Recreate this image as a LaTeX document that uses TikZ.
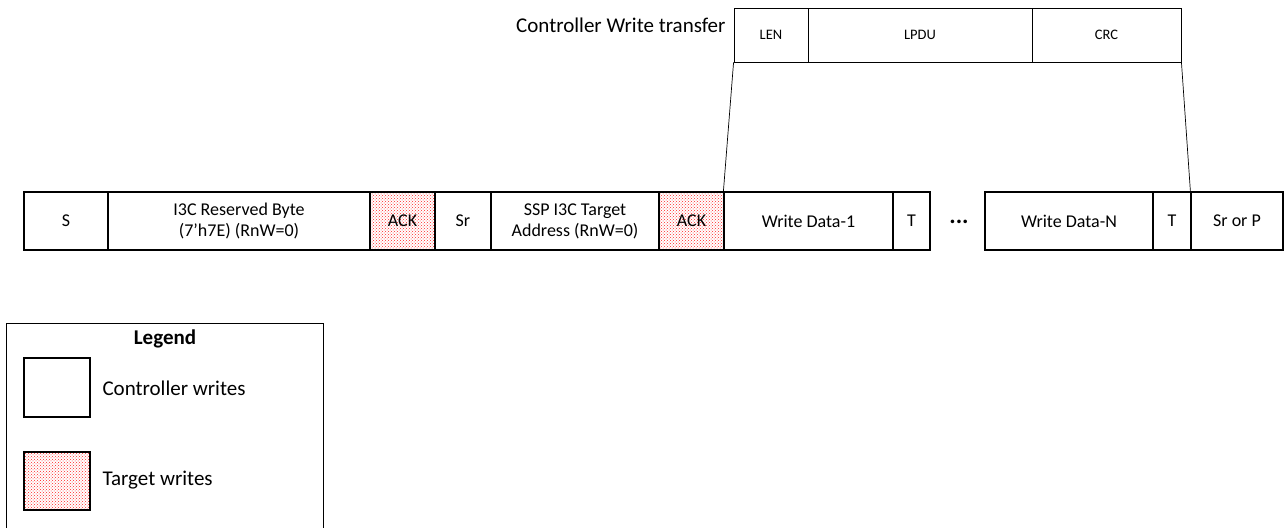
\documentclass[tikz,border=0pt]{standalone}
\usepackage{fontspec}
\setmainfont{Carlito}
\usetikzlibrary{patterns}
\begin{document}
\begin{tikzpicture}[x=1pt,y=-1pt,
  fld/.style={draw=black, line width=1.2pt, fill=white, inner sep=0pt, align=center, font=\fontsize{18}{21}\selectfont},
  tgt/.style={fld, pattern=crosshatch dots, pattern color=red!85},
  sub/.style={draw=black, line width=0.9pt, fill=white, inner sep=0pt, font=\fontsize{14.5}{17}\selectfont},
  lnk/.style={black, line width=0.7pt}]
\useasboundingbox (0,0) rectangle (1284,527);
\newcommand{\fieldbox}[5]{%
  \node[#1, minimum width=#3-#2 pt, minimum height=58pt] (#4) at ({(#2+#3)/2},221) {#5};}
\fieldbox{fld}{24}{108}{s}{S}
\fieldbox{fld}{108}{370}{rb}{I3C Reserved Byte\\(7'h7E) (RnW=0)}
\fieldbox{tgt}{370}{435}{ack1}{}
\node[font=\fontsize{18}{21}\selectfont] at (ack1) {ACK};
\fieldbox{fld}{435}{491}{sr}{Sr}
\fieldbox{fld}{491}{659}{ssp}{SSP I3C Target\\Address (RnW=0)}
\fieldbox{tgt}{659}{724}{ack2}{}
\node[font=\fontsize{18}{21}\selectfont] at (ack2) {ACK};
\fieldbox{fld}{724}{893}{wd1}{Write Data-1}
\fieldbox{fld}{893}{930}{t1}{T}
\node[font=\fontsize{24}{26}\selectfont\bfseries] (dots) at (959,222) {...};
\fieldbox{fld}{985}{1153}{wdn}{Write Data-N}
\fieldbox{fld}{1153}{1191}{t2}{T}
\fieldbox{fld}{1191}{1283}{srp}{Sr or P}
% top row
\node[sub, minimum width=74pt, minimum height=54pt] (len) at (771,35) {LEN};
\node[sub, minimum width=224pt, minimum height=54pt] (lpdu) at (920,35) {LPDU};
\node[sub, minimum width=149pt, minimum height=54pt] (crc) at (1106.5,35) {CRC};
\node[anchor=east, font=\fontsize{21}{24}\selectfont] (cwt) at (729,25) {Controller Write transfer};
\draw[lnk] (len.south west) -- (wd1.north west);
\draw[lnk] (crc.south east) -- (srp.north west);
% legend
\node[draw=black, line width=1pt, fill=white, minimum width=317pt, minimum height=220pt, anchor=north west] (leg) at (6,323) {};
\node[font=\fontsize{21}{24}\selectfont\bfseries] (legt) at (165,339) {Legend};
\node[draw=black, line width=1.2pt, fill=white, minimum width=66pt, minimum height=59pt] (lc) at (57,387.5) {};
\node[anchor=west, font=\fontsize{21}{24}\selectfont] (lct) at (99,388) {Controller writes};
\node[draw=black, line width=1.2pt, pattern=crosshatch dots, pattern color=red!85, minimum width=66pt, minimum height=58pt] (lt) at (57,481) {};
\node[anchor=west, font=\fontsize{21}{24}\selectfont] (ltt) at (99,480) {Target writes};
\end{tikzpicture}
\end{document}
